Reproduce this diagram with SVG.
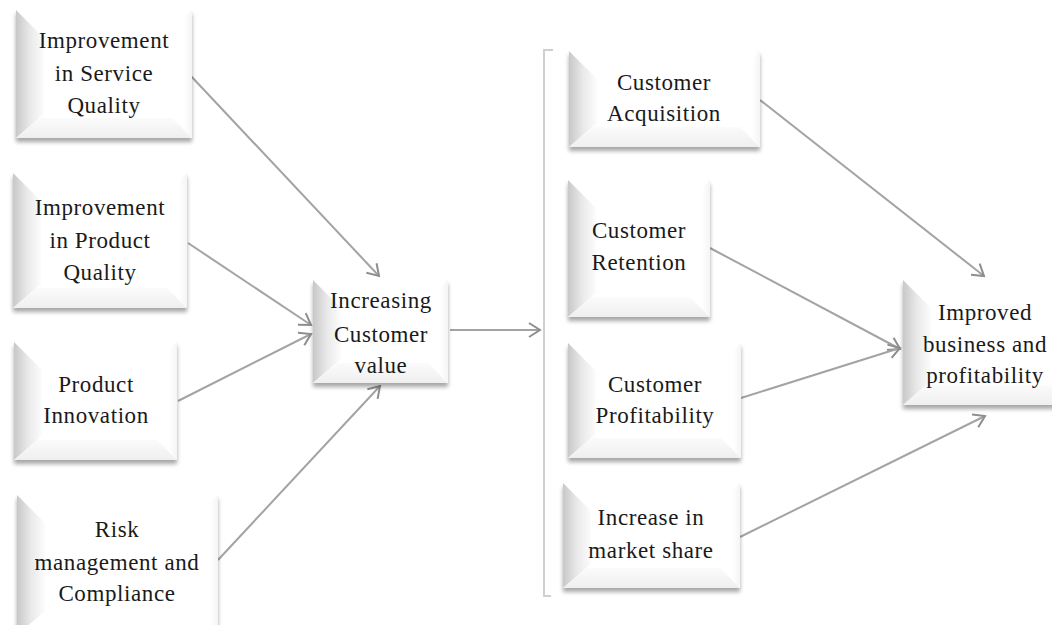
<svg xmlns="http://www.w3.org/2000/svg" width="1052" height="625" viewBox="0 0 1052 625">
  <style>
    .box { fill: #ffffff; filter: url(#shadow); }
    .bevL { fill: url(#gradL); }
    .bevB { fill: url(#gradB); }
    .bevR { fill: url(#gradR); }
    .lbl { font-family: "Liberation Serif", "Times New Roman", serif; font-size: 23px; letter-spacing: 0.6px; fill: #1a1a1a; text-anchor: middle; }
    .conn { stroke: #a3a3a3; stroke-width: 2; fill: none; marker-end: url(#arrow); }
    .bracket { stroke: #cfcfcf; stroke-width: 2; fill: none; }
  </style>
  <defs>
    <filter id="shadow" x="-10%" y="-10%" width="120%" height="130%">
      <feGaussianBlur in="SourceAlpha" stdDeviation="2"/>
      <feOffset dx="0" dy="4" result="b"/>
      <feComponentTransfer><feFuncA type="linear" slope="0.35"/></feComponentTransfer>
      <feMerge><feMergeNode/><feMergeNode in="SourceGraphic"/></feMerge>
    </filter>
    <linearGradient id="gradL" x1="0" y1="0" x2="1" y2="0">
      <stop offset="0" stop-color="#c8c8c8"/>
      <stop offset="0.5" stop-color="#e9e9e9"/>
      <stop offset="1" stop-color="#fcfcfc"/>
    </linearGradient>
    <linearGradient id="gradB" x1="0" y1="0" x2="0" y2="1">
      <stop offset="0" stop-color="#fbfbfb"/>
      <stop offset="1" stop-color="#efefef"/>
    </linearGradient>
    <linearGradient id="gradR" x1="0" y1="0" x2="1" y2="0">
      <stop offset="0" stop-color="#ffffff"/>
      <stop offset="1" stop-color="#f5f5f5"/>
    </linearGradient>
    <marker id="arrow" markerUnits="userSpaceOnUse" markerWidth="16" markerHeight="16" viewBox="-14 -8 16 16" refX="0" refY="0" orient="auto">
      <path d="M-11,-7 L0,0 L-11,7" fill="none" stroke="#8e8e8e" stroke-width="2"/>
    </marker>
  </defs>

  <!-- connectors -->
  <g id="connectors">
    <line class="conn" x1="190" y1="75" x2="379" y2="276"/>
    <line class="conn" x1="188" y1="243" x2="311" y2="325"/>
    <line class="conn" x1="178" y1="401" x2="311" y2="334"/>
    <line class="conn" x1="218" y1="560" x2="380" y2="386"/>
    <line class="conn" x1="450" y1="330" x2="540" y2="330"/>
    <line class="conn" x1="760" y1="100" x2="984" y2="276"/>
    <line class="conn" x1="710" y1="248" x2="900" y2="349"/>
    <line class="conn" x1="741" y1="398" x2="900" y2="348"/>
    <line class="conn" x1="740" y1="537" x2="985" y2="416"/>
    <path class="bracket" d="M553,50 H544 V596 H551"/>
  </g>

  <!-- left column -->
  <g id="service-quality">
    <rect class="box" x="16" y="10" width="176" height="128"/>
    <polygon class="bevL" points="16,10 44,38 44,114 16,138"/>
    <polygon class="bevB" points="16,138 40,118 172,118 192,138"/>
    <polygon class="bevR" points="192,10 184,18 184,130 192,138"/>
    <text class="lbl"><tspan x="104" y="48">Improvement</tspan><tspan x="104" y="81">in Service</tspan><tspan x="104" y="113">Quality</tspan></text>
  </g>
  <g id="product-quality">
    <rect class="box" x="13" y="173" width="174" height="135"/>
    <polygon class="bevL" points="13,173 41,201 41,284 13,308"/>
    <polygon class="bevB" points="13,308 37,288 167,288 187,308"/>
    <polygon class="bevR" points="187,173 179,181 179,300 187,308"/>
    <text class="lbl"><tspan x="100" y="215">Improvement</tspan><tspan x="100" y="248">in Product</tspan><tspan x="100" y="280">Quality</tspan></text>
  </g>
  <g id="product-innovation">
    <rect class="box" x="14" y="342" width="163" height="118"/>
    <polygon class="bevL" points="14,342 42,370 42,436 14,460"/>
    <polygon class="bevB" points="14,460 38,440 157,440 177,460"/>
    <polygon class="bevR" points="177,342 169,350 169,452 177,460"/>
    <text class="lbl"><tspan x="96" y="392">Product</tspan><tspan x="96" y="423">Innovation</tspan></text>
  </g>
  <g id="risk-compliance">
    <rect class="box" x="17" y="495" width="201" height="140"/>
    <polygon class="bevL" points="17,495 45,523 45,611 17,635"/>
    <polygon class="bevR" points="218,495 210,503 210,627 218,635"/>
    <text class="lbl"><tspan x="117" y="537">Risk</tspan><tspan x="117" y="570">management and</tspan><tspan x="117" y="601">Compliance</tspan></text>
  </g>

  <!-- middle -->
  <g id="customer-value">
    <rect class="box" x="313" y="280" width="135" height="103"/>
    <polygon class="bevL" points="313,280 341,308 341,359 313,383"/>
    <polygon class="bevB" points="313,383 337,363 428,363 448,383"/>
    <polygon class="bevR" points="448,280 440,288 440,375 448,383"/>
    <text class="lbl"><tspan x="381" y="308">Increasing</tspan><tspan x="381" y="342">Customer</tspan><tspan x="381" y="373">value</tspan></text>
  </g>

  <!-- right column -->
  <g id="customer-acquisition">
    <rect class="box" x="569" y="51" width="191" height="96"/>
    <polygon class="bevL" points="569,51 597,79 597,123 569,147"/>
    <polygon class="bevB" points="569,147 593,127 740,127 760,147"/>
    <polygon class="bevR" points="760,51 752,59 752,139 760,147"/>
    <text class="lbl"><tspan x="664" y="90">Customer</tspan><tspan x="664" y="121">Acquisition</tspan></text>
  </g>
  <g id="customer-retention">
    <rect class="box" x="568" y="180" width="142" height="137"/>
    <polygon class="bevL" points="568,180 596,208 596,293 568,317"/>
    <polygon class="bevB" points="568,317 592,297 690,297 710,317"/>
    <polygon class="bevR" points="710,180 702,188 702,309 710,317"/>
    <text class="lbl"><tspan x="639" y="238">Customer</tspan><tspan x="639" y="270">Retention</tspan></text>
  </g>
  <g id="customer-profitability">
    <rect class="box" x="568" y="343" width="173" height="115"/>
    <polygon class="bevL" points="568,343 596,371 596,434 568,458"/>
    <polygon class="bevB" points="568,458 592,438 721,438 741,458"/>
    <polygon class="bevR" points="741,343 733,351 733,450 741,458"/>
    <text class="lbl"><tspan x="655" y="392">Customer</tspan><tspan x="655" y="423">Profitability</tspan></text>
  </g>
  <g id="market-share">
    <rect class="box" x="563" y="483" width="177" height="105"/>
    <polygon class="bevL" points="563,483 591,511 591,564 563,588"/>
    <polygon class="bevB" points="563,588 587,568 720,568 740,588"/>
    <polygon class="bevR" points="740,483 732,491 732,580 740,588"/>
    <text class="lbl"><tspan x="651" y="525">Increase in</tspan><tspan x="651" y="558">market share</tspan></text>
  </g>

  <!-- outcome -->
  <g id="improved-business">
    <rect class="box" x="903" y="280" width="170" height="125"/>
    <polygon class="bevL" points="903,280 931,308 931,381 903,405"/>
    <polygon class="bevB" points="903,405 927,385 1053,385 1073,405"/>
    <text class="lbl"><tspan x="985" y="320">Improved</tspan><tspan x="985" y="352">business and</tspan><tspan x="985" y="383">profitability</tspan></text>
  </g>
</svg>
